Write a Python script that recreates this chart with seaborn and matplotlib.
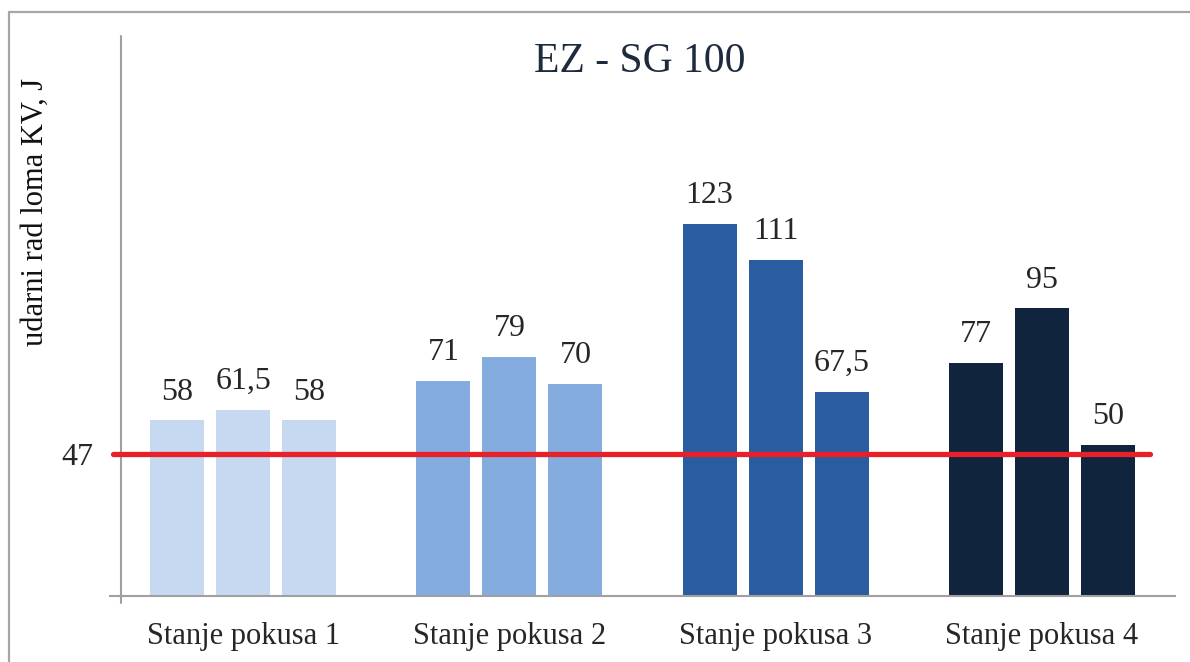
import matplotlib
matplotlib.use("Agg")
import matplotlib.pyplot as plt
from matplotlib.lines import Line2D
import pandas as pd
import seaborn as sns

# Impact energy per test condition, three specimens each
conditions = ["Stanje pokusa 1", "Stanje pokusa 2", "Stanje pokusa 3", "Stanje pokusa 4"]
specimen_1 = [58, 71, 123, 77]
specimen_2 = [61.5, 79, 111, 95]
specimen_3 = [58, 70, 67.5, 50]
limit_value = 47
condition_colors = ["#C6D9F1", "#84ACDF", "#2A5D9F", "#10243E"]

title = "EZ - SG 100"
y_label = "udarni rad loma KV, J"

rows = []
for spec, vals in (("1", specimen_1), ("2", specimen_2), ("3", specimen_3)):
    for cond, v in zip(conditions, vals):
        rows.append({"stanje": cond, "uzorak": spec, "KV": v})
df = pd.DataFrame(rows)

sns.set_theme(style="white")
plt.rcParams["font.family"] = ["Liberation Serif", "DejaVu Serif"]

W, H = 1190, 662
fig = plt.figure(figsize=(W / 100, H / 100), dpi=100)
ax = fig.add_axes([110 / W, 66 / H, 1065 / W, 560 / H])

sns.barplot(data=df, x="stanje", y="KV", hue="uzorak", order=conditions,
            width=0.744, gap=0.18, dodge=True, errorbar=None,
            legend=False, ax=ax, edgecolor="none")

# colour each bar by its test condition
for container in ax.containers:
    for patch in container:
        idx = int(round(patch.get_x() + patch.get_width() / 2))
        patch.set_facecolor(condition_colors[idx])

def fmt(v):
    return f"{v:g}".replace(".", ",")

for container, vals in zip(ax.containers, (specimen_1, specimen_2, specimen_3)):
    ax.bar_label(container, labels=[fmt(v) for v in vals], padding=10,
                 fontsize=23, color="#262626")

ax.set_xlim(-0.5, 3.5)
ax.set_ylim(0, 185)

# required minimum energy
ax.axhline(limit_value, xmin=3 / 1065, xmax=1040 / 1065, color="#E8202A",
           lw=3.8, zorder=5)

ax.set_yticks([limit_value])
ax.set_yticklabels([str(limit_value)], fontsize=23, color="#262626")
ax.tick_params(axis="y", length=0, pad=12)
ax.tick_params(axis="x", length=0, pad=19, labelsize=22, labelcolor="#262626")
ax.set_xlabel("")
ax.set_ylabel("")

for side in ("top", "right", "left"):
    ax.spines[side].set_visible(False)
ax.spines["bottom"].set_color("#A0A0A0")
ax.spines["bottom"].set_linewidth(1.5)

# vertical axis line, slightly inset and running just below the base
ax.add_line(Line2D([11 / 1065, 11 / 1065], [-0.0125, 1.0], transform=ax.transAxes,
                   color="#A0A0A0", lw=1.5, clip_on=False))

fig.text(640 / W, 1 - 62 / H, title, ha="center", va="center",
         fontsize=30, color="#1E2A3E")
fig.text(35 / W, 1 - 212 / H, y_label, ha="center", va="center",
         rotation=90, fontsize=22, color="#111111")

# chart frame
frame_kw = dict(transform=fig.transFigure, color="#A6A6A6", lw=1.6)
fig.add_artist(Line2D([9 / W, 1.0], [1 - 12 / H, 1 - 12 / H], **frame_kw))
fig.add_artist(Line2D([9 / W, 9 / W], [1 - 12 / H, 0.0], **frame_kw))

fig.savefig("out.png", dpi=100, facecolor="white")
